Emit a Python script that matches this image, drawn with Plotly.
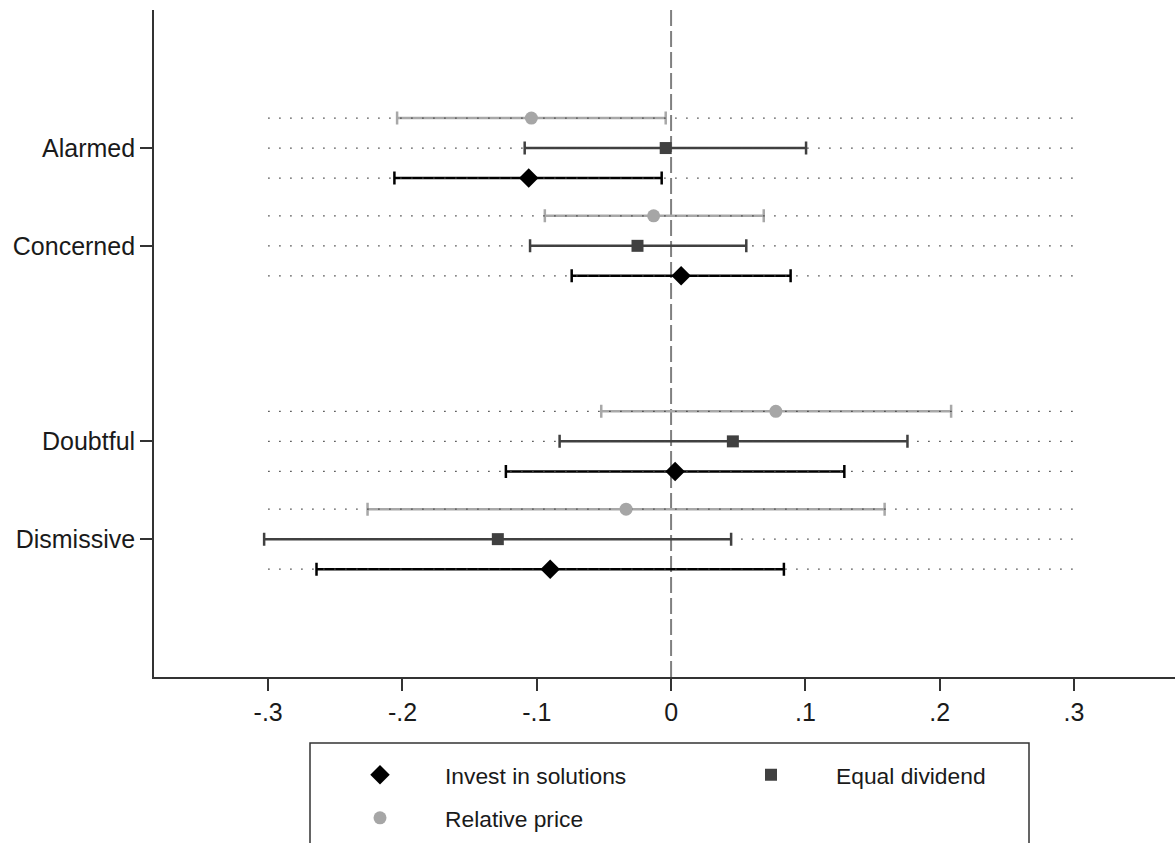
import plotly.graph_objects as go

# ---------------- data ----------------
categories = ["Alarmed", "Concerned", "Doubtful", "Dismissive"]
series_names = ["Invest in solutions", "Equal dividend", "Relative price"]

invest_est = [-0.106, 0.0075, 0.003, -0.090]
invest_lo = [-0.206, -0.074, -0.123, -0.264]
invest_hi = [-0.007, 0.089, 0.129, 0.084]

equal_est = [-0.004, -0.025, 0.046, -0.129]
equal_lo = [-0.109, -0.105, -0.083, -0.303]
equal_hi = [0.1005, 0.056, 0.176, 0.0447]

price_est = [-0.104, -0.013, 0.078, -0.0335]
price_lo = [-0.204, -0.094, -0.052, -0.226]
price_hi = [-0.004, 0.069, 0.2085, 0.159]

ref_span = [-0.3, 0.3]
x_tickvals = [-0.3, -0.2, -0.1, 0, 0.1, 0.2, 0.3]
x_ticktext = ["-.3", "-.2", "-.1", "0", ".1", ".2", ".3"]

# ---------------- layout helpers ----------------
FONT = "Liberation Sans, Arial, sans-serif"
W, H = 1175, 843
ML, MR, MT, MB = 154, 0, 10, 843 - 677
PW, PH = W - ML - MR, H - MT - MB


def px_x(p):
    return (p - ML) / PW


def px_y(p):
    return (H - MB - p) / PH


# category positions (gap between the two groups)
group_pos = [i + 1 + (1 if i >= 2 else 0) for i in range(len(categories))]
off = 0.307

series = [
    dict(name=series_names[0], est=invest_est, lo=invest_lo, hi=invest_hi,
         d=off, color="#000000", ci="#000000", symbol="diamond", size=15,
         legend="legend"),
    dict(name=series_names[1], est=equal_est, lo=equal_lo, hi=equal_hi,
         d=0.0, color="#404040", ci="#404040", symbol="square", size=12,
         legend="legend3"),
    dict(name=series_names[2], est=price_est, lo=price_lo, hi=price_hi,
         d=-off, color="#a6a6a6", ci="#a8a8a8", symbol="circle", size=13,
         legend="legend2"),
]

fig = go.Figure()

# confidence intervals
for s in series:
    ys = [g + s["d"] for g in group_pos]
    fig.add_trace(go.Scatter(
        x=s["est"], y=ys, mode="markers",
        marker=dict(size=1, color="rgba(0,0,0,0)"),
        error_x=dict(type="data", symmetric=False,
                     array=[h - e for h, e in zip(s["hi"], s["est"])],
                     arrayminus=[e - l for e, l in zip(s["est"], s["lo"])],
                     color=s["ci"], thickness=2.5, width=6.5),
        showlegend=False, hoverinfo="skip"))

# dotted reference lines
dx, dy = [], []
for s in series:
    for g in group_pos:
        dx += [ref_span[0], ref_span[1], None]
        dy += [g + s["d"], g + s["d"], None]
fig.add_trace(go.Scatter(x=dx, y=dy, mode="lines",
                         line=dict(color="#444444", width=1.3, dash="1.5px,9.5px"),
                         showlegend=False, hoverinfo="skip"))

# point estimates
for s in series:
    ys = [g + s["d"] for g in group_pos]
    fig.add_trace(go.Scatter(
        x=s["est"], y=ys, mode="markers", name=s["name"],
        marker=dict(symbol=s["symbol"], size=s["size"], color=s["color"],
                    line=dict(width=0)),
        legend=s["legend"]))

y_lo, y_hi = -0.412, 6.41

fig.add_shape(type="line", xref="x", yref="paper", x0=0, x1=0, y0=0, y1=1,
              line=dict(color="#808080", width=2, dash="16px,5px"), layer="below")

# legend frame
fig.add_shape(type="rect", xref="paper", yref="paper",
              x0=px_x(310), x1=px_x(1029), y0=px_y(743), y1=px_y(900),
              line=dict(color="#333333", width=1.5), fillcolor="rgba(0,0,0,0)")

leg_common = dict(orientation="v", xanchor="left", yanchor="middle",
                  bgcolor="rgba(0,0,0,0)", borderwidth=0,
                  font=dict(family=FONT, size=22.8, color="#1a1a1a"),
                  itemwidth=120)

fig.update_layout(
    width=W, height=H,
    margin=dict(l=ML, r=MR, t=MT, b=MB),
    plot_bgcolor="white", paper_bgcolor="white",
    font=dict(family=FONT, color="#1a1a1a"),
    xaxis=dict(range=[-0.385, 0.3752], tickvals=x_tickvals, ticktext=x_ticktext,
               ticks="outside", ticklen=12, tickwidth=1.8, tickcolor="#333333",
               showline=True, linecolor="#333333", linewidth=1.8,
               showgrid=False, zeroline=False, automargin=False,
               tickfont=dict(family=FONT, size=25, color="#1a1a1a")),
    yaxis=dict(range=[y_hi, y_lo], tickvals=group_pos, ticktext=categories,
               ticks="outside", ticklen=12, tickwidth=1.8, tickcolor="#333333",
               showline=True, linecolor="#333333", linewidth=1.8,
               showgrid=False, zeroline=False, automargin=False,
               tickfont=dict(family=FONT, size=25, color="#1a1a1a")),
    legend=dict(x=px_x(315), y=px_y(775), **leg_common),
    legend2=dict(x=px_x(315), y=px_y(818), **leg_common),
    legend3=dict(x=px_x(706), y=px_y(775), **leg_common),
)

fig.write_html(
    "out.html",
    config={"displayModeBar": False},
    post_script="document.body.style.margin='0';"
                "document.body.style.overflow='hidden';",
)
